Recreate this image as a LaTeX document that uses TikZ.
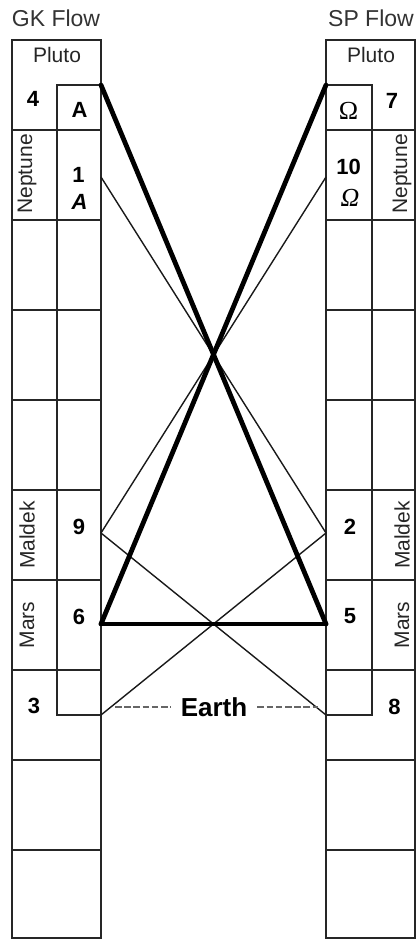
\documentclass[tikz,border=0pt]{standalone}
\usepackage{fontspec}
\setmainfont{Liberation Sans}
\newfontfamily\omegafont{Liberation Serif}
\begin{document}
\begin{tikzpicture}[x=1pt,y=-1pt,
  box/.style={draw=black!85, line width=1.5pt},
  thinline/.style={line width=1.4pt, draw=black!90},
  thickline/.style={line width=4.8pt, line cap=round, line join=round, draw=black},
  title/.style={font=\fontsize{23}{23}\selectfont, text=black!80, inner sep=0pt},
  lbl/.style={font=\fontsize{21}{21}\selectfont, text=black!85, inner sep=0pt},
  vlbl/.style={lbl, rotate=90},
  num/.style={font=\fontsize{22}{22}\selectfont\bfseries, inner sep=0pt},
  omega/.style={font=\fontsize{26}{26}\selectfont\omegafont, inner sep=0pt},
  earthlbl/.style={font=\fontsize{26}{26}\selectfont\bfseries, inner xsep=10pt, inner ysep=0pt},
  dashline/.style={draw=black!60, line width=2.2pt, dash pattern=on 6.5pt off 2.7pt}
]
\useasboundingbox (0,0) rectangle (417,940);

% ---- left column (GK Flow)
\draw[box] (12,40) rectangle (101,938);
\foreach \y in {130,220,310,400,490,580,670,760,850}
  \draw[box] (12,\y) -- (101,\y);
\draw[box] (57,85) rectangle (101,715);

% ---- right column (SP Flow)
\draw[box] (326,40) rectangle (415,938);
\foreach \y in {130,220,310,400,490,580,670,760,850}
  \draw[box] (326,\y) -- (415,\y);
\draw[box] (326,85) rectangle (372,715);

% ---- titles and labels
\node[title] (gkt) at (56,18) {GK Flow};
\node[title] (spt) at (371,18) {SP Flow};
\node[lbl] (plL) at (57,55) {Pluto};
\node[lbl] (plR) at (371,55) {Pluto};
\node[vlbl] (neL) at (27,174) {Neptune};
\node[vlbl] (neR) at (402,174) {Neptune};
\node[vlbl] (maL) at (27,535) {Maldek};
\node[vlbl] (maR) at (402,535) {Maldek};
\node[vlbl] (msL) at (27,625) {Mars};
\node[vlbl] (msR) at (402,625) {Mars};

% ---- numbers left
\node[num] (n4) at (33,99) {4};
\node[num] (nA) at (79.5,109.5) {A};
\node[num] (n1) at (78.5,175) {1};
\node[num] (nAi) at (79.5,202) {\itshape A};
\node[num] (n9) at (79,527) {9};
\node[num] (n6) at (79,616.5) {6};
\node[num] (n3) at (34,706) {3};

% ---- numbers right
\node[num] (n7) at (392,100.5) {7};
\node[omega] (nO) at (348.5,111) {Ω};
\node[num] (n10) at (348.5,167) {10};
\node[omega] (nOi) at (350,197.5) {\itshape Ω};
\node[num] (n2) at (350,527) {2};
\node[num] (n5) at (350,616.5) {5};
\node[num] (n8) at (394.5,707) {8};

% ---- connection points
\coordinate (LA) at (101,85);
\coordinate (L1) at (101,177);
\coordinate (L9) at (101,533);
\coordinate (L6) at (101,624);
\coordinate (L3) at (101,715);
\coordinate (RO) at (326,85);
\coordinate (R10) at (326,177);
\coordinate (R2) at (326,533);
\coordinate (R5) at (326,624);
\coordinate (R8) at (326,715);

% ---- thin connectors
\draw[thinline] (L1) -- (R2);
\draw[thinline] (R10) -- (L9);
\draw[thinline] (L9) -- (R8);
\draw[thinline] (R2) -- (L3);

% ---- thick connectors
\draw[thickline] (LA) -- (R5);
\draw[thickline] (RO) -- (L6);
\draw[thickline] (L6) -- (R5);

% ---- Earth
\node[earthlbl] (earth) at (214,707) {Earth};
\coordinate (eL) at (115,707);
\coordinate (eR) at (318,707);
\draw[dashline] (eL) -- (earth.west);
\draw[dashline] (earth.east) -- (eR);
\end{tikzpicture}
\end{document}
